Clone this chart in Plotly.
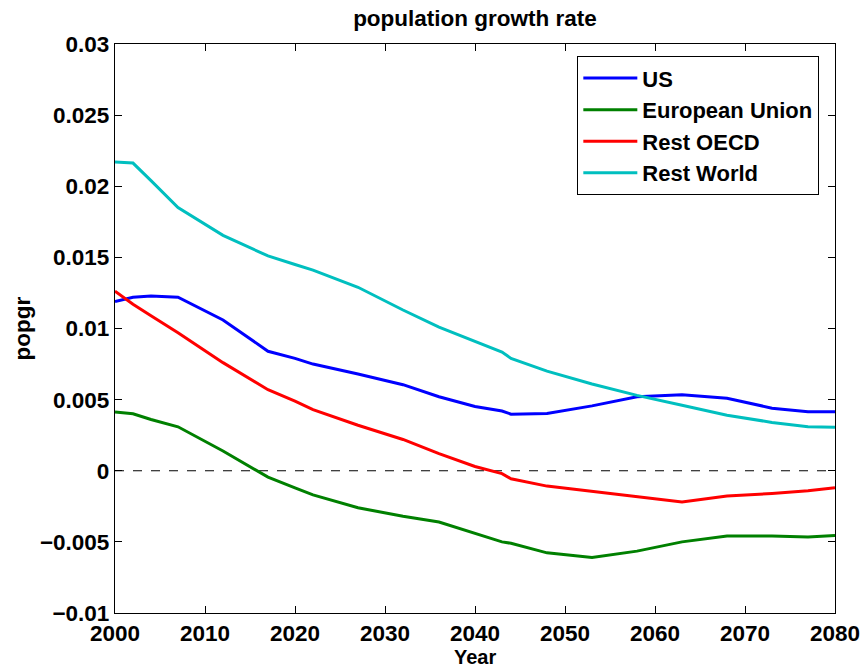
import plotly.graph_objects as go

years = [2000, 2002, 2004, 2007, 2012, 2017, 2020, 2022, 2027, 2032, 2036, 2040,
         2043, 2044, 2048, 2053, 2058, 2063, 2068, 2073, 2077, 2080]

us = [0.0119, 0.0122, 0.01228, 0.0122, 0.0106, 0.0084, 0.0079, 0.0075, 0.0068, 0.00605,
      0.0052, 0.00452, 0.0042, 0.00398, 0.00403, 0.00456, 0.0052, 0.00535, 0.0051, 0.0044,
      0.00415, 0.00415]
eu = [0.00413, 0.00401, 0.0036, 0.00309, 0.00139, -0.00045, -0.0012, -0.0017, -0.0026, -0.0032,
      -0.0036, -0.0044, -0.0050, -0.0051, -0.00577, -0.0061, -0.00565, -0.0050, -0.00459, -0.00459,
      -0.00465, -0.00455]
rest_oecd = [0.01263, 0.0117, 0.0109, 0.0097, 0.0076, 0.0057, 0.0049, 0.0043, 0.0032, 0.0022,
             0.0012, 0.0003, -0.0002, -0.00056, -0.00108, -0.00145, -0.00178, -0.0022, -0.00178, -0.0016,
             -0.0014, -0.0012]
rest_world = [0.0217, 0.02163, 0.0204, 0.0185, 0.01655, 0.0151, 0.0145, 0.0141, 0.0129, 0.0113,
              0.0101, 0.0091, 0.00834, 0.0079, 0.0070, 0.0061, 0.0053, 0.0046, 0.0039, 0.0034,
              0.0031, 0.00305]

series_names = ["US", "European Union", "Rest OECD", "Rest World"]
series_colors = ["#0000FF", "#008000", "#FF0000", "#00BFBF"]
series_values = [us, eu, rest_oecd, rest_world]

x_ticks = [2000, 2010, 2020, 2030, 2040, 2050, 2060, 2070, 2080]
y_ticks = [-0.01, -0.005, 0, 0.005, 0.01, 0.015, 0.02, 0.025, 0.03]
y_ticktext = ["\u22120.01", "\u22120.005", "0", "0.005", "0.01", "0.015", "0.02", "0.025", "0.03"]

FONT = "Liberation Sans, Arial, Helvetica, sans-serif"
FS = 22.5

fig = go.Figure()
for name, color, vals in zip(series_names, series_colors, series_values):
    fig.add_trace(go.Scatter(x=years, y=vals, mode="lines", name=name,
                             line=dict(color=color, width=3)))

# zero reference line
fig.add_shape(type="line", xref="paper", yref="y", x0=0, x1=1, y0=0, y1=0,
              line=dict(color="black", width=1, dash="dash"), layer="below")

axis_common = dict(showline=True, linecolor="black", linewidth=1.3, mirror="ticks",
                   ticks="inside", ticklen=7, tickwidth=1, tickcolor="black",
                   showgrid=False, zeroline=False, automargin=False,
                   tickfont=dict(family=FONT, size=FS, color="black", weight="bold"))

fig.update_layout(
    width=866, height=668,
    margin=dict(l=115, r=31, t=44, b=55, autoexpand=False),
    paper_bgcolor="white", plot_bgcolor="white",
    font=dict(family=FONT, color="black", weight="bold"),
    title=dict(text="population growth rate", x=0.5, xref="paper", xanchor="center",
               y=1 - 18 / 668, yref="container", yanchor="middle",
               font=dict(family=FONT, size=FS, color="black", weight="bold")),
    xaxis=dict(range=[2000, 2080], tickvals=x_ticks, **axis_common),
    yaxis=dict(range=[-0.01, 0.03], tickvals=y_ticks, ticktext=y_ticktext, **axis_common),
    showlegend=True,
    legend=dict(x=0.6417, y=0.979, xanchor="left", yanchor="top",
                bgcolor="white", bordercolor="black", borderwidth=1.3,
                font=dict(family=FONT, size=22, color="black", weight="bold"),
                itemwidth=54, tracegroupgap=0),
    annotations=[
        dict(text="Year", xref="paper", yref="paper", x=0.5, y=0, yshift=-44,
             xanchor="center", yanchor="middle", showarrow=False,
             font=dict(family=FONT, size=20, color="black", weight="bold")),
        dict(text="popgr", xref="paper", yref="paper", x=0, y=0.5, xshift=-93,
             xanchor="center", yanchor="middle", showarrow=False, textangle=-90,
             font=dict(family=FONT, size=FS, color="black", weight="bold")),
    ],
)

fig.write_html("out.html", config={"displayModeBar": False},
               post_script="document.body.style.margin='0';document.body.style.overflow='hidden';")
